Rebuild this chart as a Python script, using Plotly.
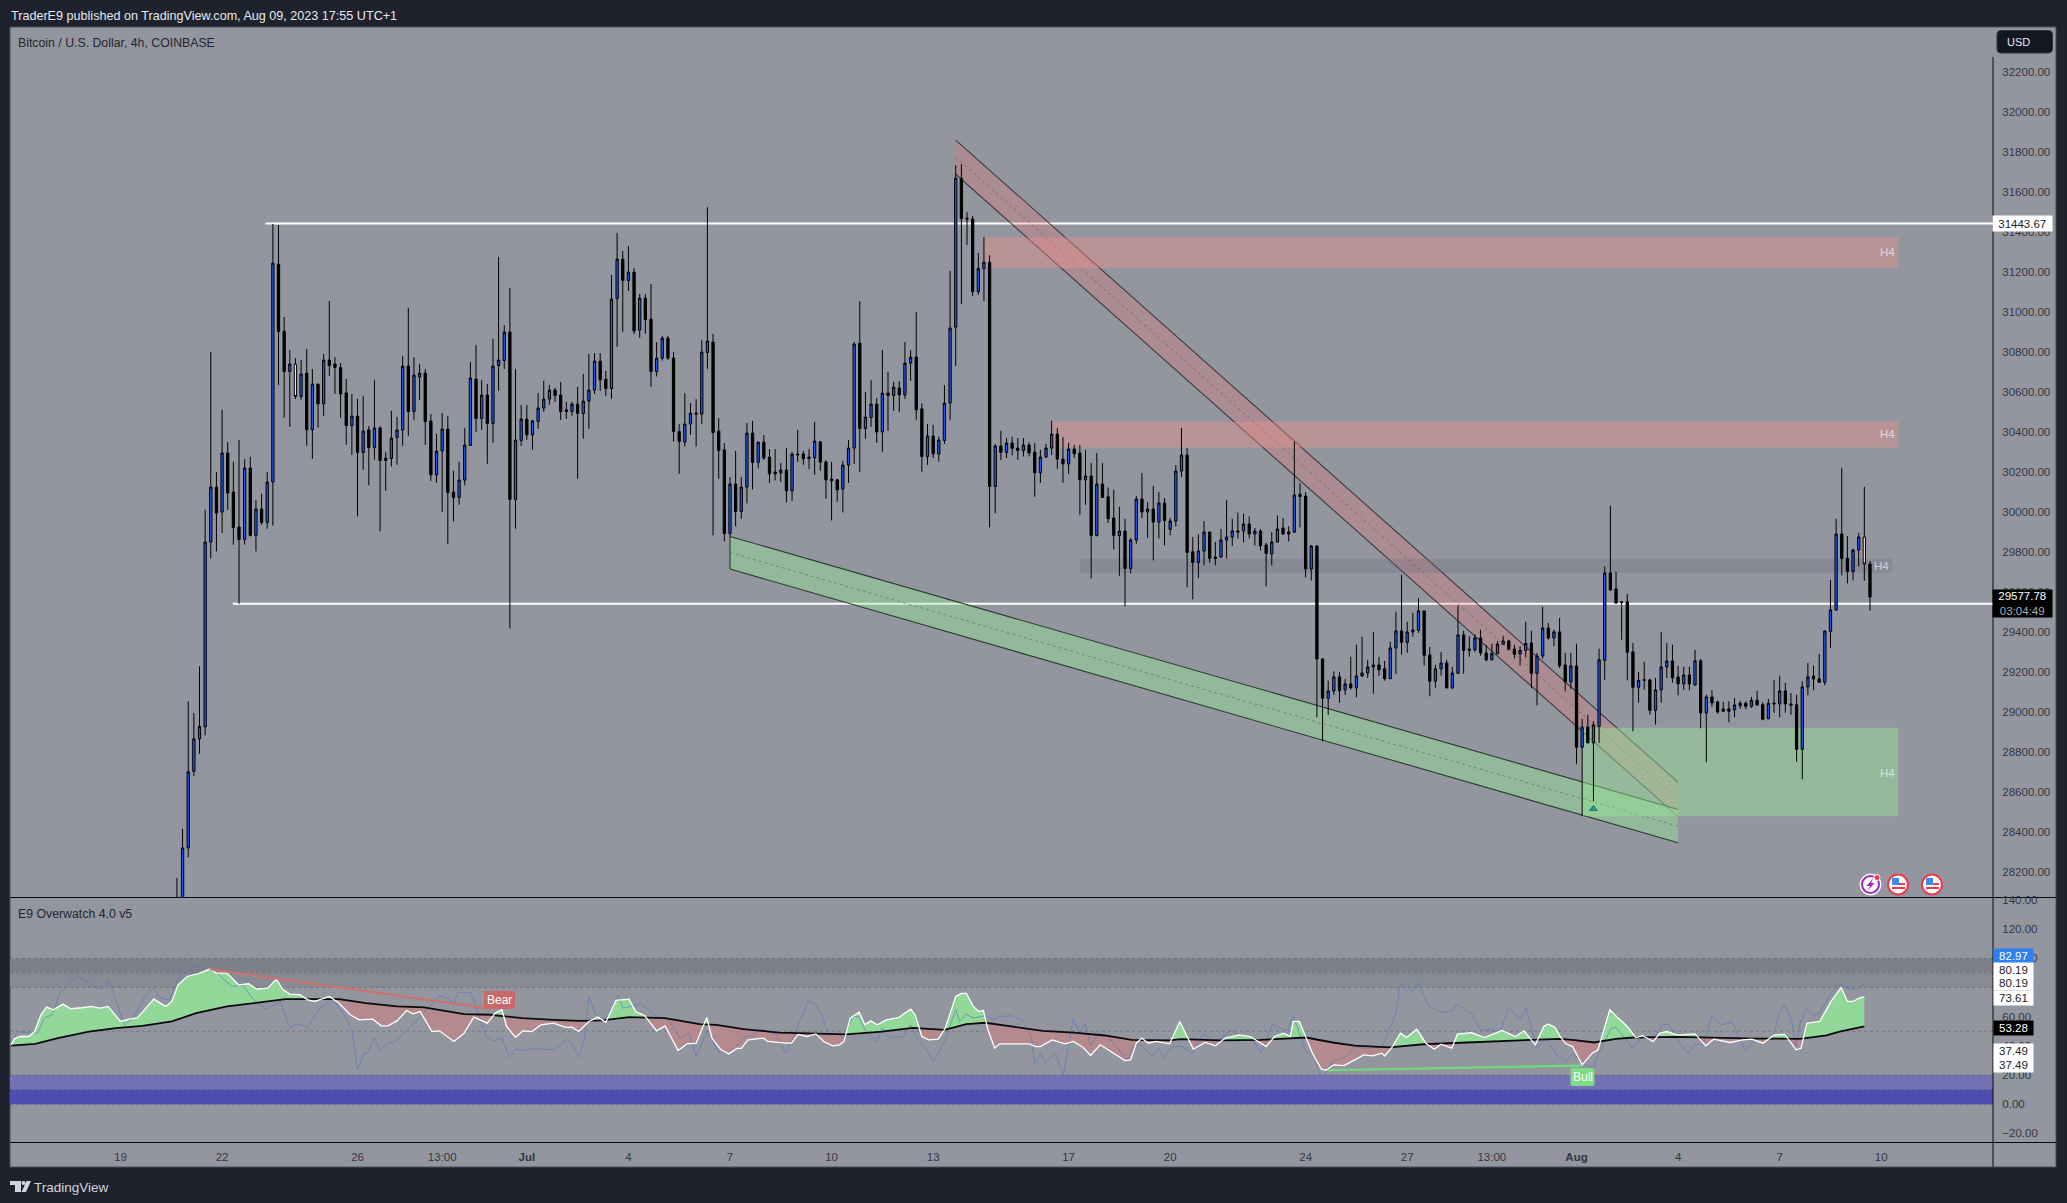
import numpy as np
import pandas as pd
import plotly.graph_objects as go

W, H = 2067, 1203
FIRST_BAR = pd.Timestamp("2023-06-20 16:00")
X_RANGE = ["2023-06-15 17:41", "2023-08-13 07:12"]
PRICE_RANGE = [28071.5, 32426.5]
OSC_RANGE = [-26.2, 141.6]

price_ticks = list(range(28200, 32201, 200))
osc_ticks = [-20, 0, 20, 40, 60, 80, 100, 120, 140]
time_tick_dates = ["2023-06-19", "2023-06-22", "2023-06-26", "2023-06-28 12:00", "2023-07-01", "2023-07-04", "2023-07-07",
                   "2023-07-10", "2023-07-13", "2023-07-17", "2023-07-20", "2023-07-24", "2023-07-27", "2023-07-29 12:00",
                   "2023-08-01", "2023-08-04", "2023-08-07", "2023-08-10"]
time_tick_text = ["19", "22", "26", "13:00", "<b>Jul</b>", "4", "7", "10", "13", "17", "20", "24", "27", "13:00",
                  "<b>Aug</b>", "4", "7", "10"]

open_prices = [
27900,27980,28320,28703,28865,28925,29850,30125,30000,30295,
30100,29925,29863,30220,29883,30015,29948,30150,31240,30905,
30703,30740,30578,30695,30411,30640,30541,30760,30741,30722,
30596,30433,30480,30298,30411,30323,30420,30258,30268,30373,
30410,30730,30503,30675,30695,30455,30185,30305,30415,30100,
30073,30160,30333,30665,30468,30585,30443,30733,30758,30900,
30063,30358,30465,30386,30453,30520,30565,30610,30585,30511,
30503,30540,30493,30555,30610,30755,30665,30618,31068,31265,
31158,31200,30910,31070,30965,30703,30770,30870,30770,30403,
30350,30440,30495,30490,30798,30850,30405,30311,29893,30140,
30003,30125,30395,30248,30350,30275,30200,30196,30210,30106,
30290,30290,30275,30272,30351,30250,30165,30161,30115,30235,
30320,30845,30418,30473,30540,30401,30595,30583,30621,30586,
30745,30775,30516,30278,30380,30291,30358,30545,30925,31670,
31470,31466,31103,31218,31250,30128,30330,30298,30345,30320,
30308,30335,30300,30196,30275,30320,30390,30265,30241,30315,
30295,30161,30180,29883,30140,30076,29970,29883,29905,29718,
29860,30065,30000,30015,29950,30045,29913,29955,30205,30285,
29801,29748,29805,29900,29775,29775,29860,29875,29905,29905,
29940,29890,29905,29835,29790,29850,29920,29890,29900,30088,
30080,29715,29830,29265,29068,29105,29175,29110,29140,29120,
29180,29195,29225,29235,29216,29166,29320,29405,29348,29400,
29408,29505,29285,29153,29215,29245,29120,29193,29385,29315,
29311,29370,29295,29261,29291,29338,29355,29315,29290,29308,
29345,29193,29280,29420,29370,29400,29235,29151,29230,28823,
28925,28845,28928,29258,29695,29615,29551,29551,29300,29123,
29161,29160,29008,29110,29225,29255,29175,29140,29185,29135,
29256,28995,29075,29050,29003,29015,29010,29031,29043,29028,
29058,29036,28966,29045,29040,29105,29040,29036,28813,29125,
29180,29165,29148,29403,29510,29890,29768,29703,29810,29875,
29740]
close_prices = [
28000,28320,28700,28865,28928,29850,30125,29995,30295,30095,
29923,29863,30220,29883,30015,29948,30150,31245,30903,30703,
30740,30578,30690,30411,30640,30541,30760,30733,30723,30591,
30433,30480,30298,30405,30323,30420,30258,30270,30370,30410,
30730,30503,30685,30695,30453,30186,30305,30415,30098,30073,
30160,30335,30670,30468,30585,30443,30730,30760,30900,30063,
30360,30465,30386,30456,30520,30565,30610,30583,30503,30503,
30540,30493,30555,30610,30755,30661,30618,31065,31265,31158,
31200,30906,31070,30963,30703,30770,30870,30770,30403,30353,
30440,30495,30490,30800,30855,30398,30308,29893,30140,30003,
30125,30395,30248,30350,30270,30191,30191,30210,30106,30290,
30286,30266,30268,30355,30250,30161,30156,30111,30235,30320,
30840,30418,30475,30540,30401,30595,30583,30625,30586,30745,
30775,30511,30278,30380,30291,30360,30545,30920,31670,31468,
31466,31103,31218,31250,30128,30330,30298,30345,30318,30308,
30335,30296,30196,30275,30320,30390,30265,30241,30315,30291,
30161,30180,29883,30140,30073,29966,29883,29905,29718,29860,
30065,30000,30015,29950,30045,29958,29955,30205,30285,29798,
29748,29805,29900,29768,29768,29860,29875,29905,29900,29940,
29890,29905,29831,29793,29850,29915,29890,29900,30085,30078,
29715,29830,29265,29068,29105,29175,29106,29140,29121,29180,
29195,29225,29235,29211,29166,29320,29405,29348,29400,29410,
29505,29283,29153,29215,29245,29120,29195,29385,29308,29308,
29370,29295,29261,29291,29340,29355,29313,29288,29308,29343,
29193,29280,29420,29370,29400,29231,29151,29230,28823,28925,
28845,28935,29261,29695,29610,29545,29548,29298,29123,29158,
29158,29008,29110,29225,29255,29170,29140,29185,29140,29256,
28995,29075,29045,29000,29015,29003,29035,29043,29028,29058,
29035,28963,29043,29040,29105,29040,29033,28813,29125,29175,
29165,29148,29405,29510,29890,29768,29703,29810,29875,29740,
29575]
high_prices = [
28170,28415,29053,28995,29228,30011,30801,30200,30512,30350,
30252,30361,30265,30276,30061,30091,30200,31441,31436,30976,
30811,30770,30761,30816,30716,30640,30791,31056,30775,30746,
30666,30591,30566,30581,30430,30661,30430,30301,30506,30476,
30781,31021,30775,30741,30716,30490,30391,30495,30481,30206,
30251,30421,30750,30836,30660,30641,30866,31276,30935,31120,
30716,30536,30536,30461,30596,30656,30636,30621,30651,30551,
30551,30626,30691,30791,30795,30795,30706,31186,31396,31306,
31331,31220,31091,31091,31141,30850,30881,30881,30800,30441,
30595,30545,30565,30861,31525,30891,30470,30345,30175,30306,
30175,30446,30456,30350,30385,30315,30315,30245,30320,30301,
30411,30306,30315,30451,30355,30260,30251,30165,30256,30360,
30850,31055,30600,30660,30570,30811,30702,30651,30655,30850,
30810,31001,30545,30440,30436,30378,30635,31206,31735,31740,
31500,31481,31296,31376,31285,30340,30406,30371,30376,30371,
30370,30348,30345,30311,30341,30456,30420,30375,30346,30336,
30335,30310,30245,30295,30245,30123,30111,30026,29966,29871,
30081,30195,30051,30131,30100,30070,29970,30235,30420,30320,
29875,29888,29955,29901,29851,29915,30061,29966,29998,29991,
29978,29920,29915,29846,29900,29983,29970,29928,30351,30145,
30100,29835,29835,29270,29156,29203,29200,29165,29276,29336,
29376,29261,29400,29275,29256,29351,29501,29686,29451,29495,
29570,29505,29325,29236,29300,29261,29225,29531,29406,29378,
29388,29411,29336,29341,29353,29381,29361,29336,29328,29451,
29406,29295,29526,29445,29411,29470,29295,29295,29341,28965,
28986,28953,29316,29728,30031,29701,29553,29591,29345,29200,
29251,29165,29170,29401,29345,29336,29231,29226,29226,29311,
29265,29086,29110,29056,29050,29053,29070,29056,29053,29075,
29106,29048,29065,29160,29181,29145,29095,29086,29153,29245,
29231,29290,29408,29660,29966,30221,29880,29816,29895,30126,
29755]
low_prices = [
27850,27950,28273,28678,28791,28883,29768,29803,29895,30011,
29836,29541,29836,29878,29803,29936,29916,29932,30636,30471,
30426,30566,30561,30331,30266,30421,30481,30681,30591,30471,
30336,30286,29978,30211,30133,30261,29903,30106,30228,30236,
30331,30381,30461,30561,30336,30156,30146,30001,29841,29953,
30036,30133,30333,30401,30411,30241,30346,30606,30716,29418,
29916,30331,30361,30311,30416,30501,30536,30551,30461,30466,
30481,30166,30366,30416,30591,30606,30581,30566,30826,30901,
31106,30891,30871,30891,30626,30678,30758,30761,30353,30191,
30328,30386,30328,30441,30716,29883,30166,29853,29878,29928,
29966,30043,30113,30218,30261,30146,30158,30151,30048,30056,
30251,30236,30215,30186,30206,30066,29958,30051,29998,30146,
30241,30201,30366,30426,30346,30301,30406,30506,30500,30566,
30656,30461,30201,30236,30270,30251,30341,30461,30731,31041,
31336,31081,31086,31056,29923,29993,30260,30270,30283,30261,
30278,30278,30076,30146,30270,30286,30216,30146,30191,30270,
29986,30036,29668,29878,30073,29945,29813,29681,29528,29693,
29841,29970,29870,29758,29868,29833,29883,29928,30175,29623,
29563,29670,29733,29745,29733,29770,29768,29831,29868,29848,
29868,29833,29808,29628,29733,29848,29886,29853,29895,29923,
29673,29658,28973,28853,28985,29085,29046,29085,29112,29073,
29175,29170,29091,29181,29156,29165,29190,29286,29296,29376,
29395,29231,29078,29121,29181,29118,29115,29191,29191,29276,
29300,29281,29253,29258,29288,29336,29308,29268,29231,29273,
29118,29033,29265,29361,29328,29220,29103,29115,28740,28478,
28845,28553,28845,29161,29606,29540,29361,29158,28903,29046,
29111,28986,28936,29046,29170,29145,29083,29110,29108,29131,
28918,28748,29025,28991,29000,28948,28973,29015,29013,29020,
29031,28958,28963,28996,28973,28996,28985,28751,28663,29083,
29108,29145,29133,29321,29506,29683,29643,29658,29728,29656,
29506]
pale_bars = [21, 299]

# Oscillator read-offs: bar number (4h bars from FIRST_BAR) and value
white_bar = [-29.4,-28.8,-27.8,-26.3,-25.2,-24.1,-23.1,-21.9,-20.2,-18.8,-16.8,-15.2,-13.6,-12.2,-10,-8.5,-7,-4.1,-2,-0.9,0.2,1.8,3.8,5.8,7,8.9,10.9,12.7,14.1,16.1,17.6,18.8,20,21.8,23.2,24.4,25.6,27,28.7,30.7,32.3,33.9,34.7,36.2,37.4,39,40.7,41.8,43.1,45.2,46.5,49.1,50.9,52.6,55,56.4,57.6,58.4,60,61.3,62.9,64.5,66.7,68.9,70,71.2,73,74.6,76,77.8,80.1,81.3,82.9,85,86.5,88.8,90.4,92,92.8,93.9,94.8,96.4,97.8,99.2,100,101.2,103.9,104.7,107.9,108.9,110.1,111.6,113.2,114.6,116.2,117.4,118.2,119.3,120.9,121.9,122.9,124.1,125.7,127.9,130,130.8,132,133.2,134.9,136.1,138,139,139.9,141.1,142.1,142.9,143.7,144.9,145.8,151,152.2,153,155.1,157.3,158.9,160.5,161.9,163.6,168,169,170,171,172.1,173.5,175.9,177.7,178.7,180.1,182.2,184,185.8,188.2,190.2,193,194.5,196.1,197.3,197.8,198.9,200.1,201.2,202.8,203.6,205,206.8,208.7,210.3,211.9,213.5,214,215.4,216.8,217.9,219.7,221.3,222.8,224,225.9,226.9,229.4,231.7,234.8,237.2,238.7,240.7,242.2,243,244.2,245.1,246.1,247.3,249,250.8,251.8,253.9,255.4,257,258.5,259.7,261.6,262.8,264,265.9,269,270.9,272.3,275.2,277.5,279.1,281,283,284.9,286.9,287.8,288.8,291.1,293.1,294.9,296,297,298.1,299]
white_val = [40.7,44.8,46.4,46.4,49.8,61.3,66.5,64.7,68.6,65.4,66.1,67,65.8,67,56.7,58.3,59.2,72,67,70.4,81.8,87.5,89.4,92.6,89.8,89.8,81.8,82.5,78.9,79.5,85.7,78.4,75.4,75,71.5,70.4,72,73.8,69.3,61.3,57.8,57.8,58.3,53.7,53.7,57.1,64.2,61.9,63.5,49.8,50.3,43,48.7,59.7,55.5,62.4,64.7,53.3,45.9,50.3,49.8,54.4,55.5,52.6,52.8,49.8,56.7,59.7,56.2,71.1,72,63.5,60.6,50.3,53.7,36.8,41.4,41.8,48.7,59.4,45.3,37.3,34.5,38.2,38.2,44.1,45.3,43,41.8,41.8,47.8,46.4,48.2,43,40,40.7,43,59,63.1,54.4,57.1,54.4,57.8,59.4,65.1,61.3,46.4,44.1,44.6,51.7,73.8,75.9,75.9,67,63.5,64.2,51,38.4,41.4,41.4,39.5,39.5,44.1,41.4,43,39.1,33.4,40.7,29.9,30.4,41.8,45.3,41.8,43,41.4,56.7,48.7,37.7,42.3,40,45.3,47.5,46.4,39.5,46.4,48.7,46.4,56.7,56.7,45.7,35,24,23.3,27,26.5,30.4,33.8,33.1,35,33.1,39.5,48.7,45.7,51.4,41.8,37.7,41.1,38.4,48,49.1,45.7,50.5,46.4,50.3,40.7,53.3,54.9,52.6,46.4,41.4,39.5,27,35,37.3,64.7,59,53.3,45.7,46.9,43,48.7,49.8,47.3,48.2,40,44.6,42.3,44.1,44.6,41.8,47.3,47.8,37.3,38.4,55.5,56.7,70.4,80,70.4,70.4,72.7,73.61]
black_bar = [-29.4,-25.1,-21.1,-15.6,-10.8,-6.1,-0.9,3.4,8.9,14.5,19.2,24,28.7,33.5,39,43.8,50.9,55.6,61.2,66.7,71.4,75.4,80.1,86.5,92.6,95.6,100.4,106.7,113,118.6,124.9,130.4,136,139.9,143.3,147.8,153.4,158.9,164.4,169.2,175.9,177.9,185,192.1,200.1,204.8,208.7,214.9,220.9,228.6,236.4,244.9,247.3,251.1,255,258.1,265.9,272.1,279.9,287.6,292.3,294.6,299]
black_val = [40.2,41.4,45.3,49.8,52.1,53.7,56.7,62.4,67,69.7,72,72,72,69.3,67,66.3,61.7,61.3,59,57.8,57.1,57.4,59.7,59,54.9,54.4,51.4,49.1,48.2,47.8,49.8,52.3,51,54.9,55.8,53.3,50.3,49.1,47.1,44.1,43.7,44.6,43.7,44.1,45.7,42.3,40.2,38.9,41.1,42.3,43.7,44.8,44.1,42.3,44.8,45.7,46.2,45.5,45,44.8,47.1,49.8,53.28]
blue_bar = [-29.4,-28.2,-26.7,-24.7,-23.5,-22.1,-20.7,-19.5,-17.8,-16,-13.6,-12,-10.4,-9.3,-7.7,-5.7,-4.1,-2.9,-1.3,0.2,2.6,5.8,7.4,9.7,11.7,13.3,15.8,18.3,20,21.2,23.2,25.4,27.5,29.5,31.1,32,33.1,33.9,34.9,36,37.3,38.4,40.2,43.4,46.5,48.1,49.1,49.8,52.1,53.4,54.8,56,57.6,58.9,60,61.2,63.1,65.5,66.7,69.1,70.1,71.2,72.2,73,74.2,75,76.2,78.2,79,80.5,82.1,83.3,84.9,86.9,89.2,90.8,92,93.9,96,98,100.8,102.3,103.1,104.7,106.3,107.9,109.9,111.8,113,114.2,115.4,117,118.2,119.7,120.8,122.1,124.1,124.9,126.1,127.6,128.7,130,131.2,132.8,134,136,138,138.7,139.9,141.1,143.1,144.7,145.8,147.8,149.8,151.4,152,153,154,155.7,157,158,158.8,159.9,160.9,161.9,163.3,164.8,168.4,169.7,170.8,172.9,174,174.9,176.3,177.9,179.9,181.8,183.8,186.8,188.2,190.2,192.1,194.1,196.1,196.9,197.8,198.9,200.1,201.2,202.8,204.8,207.2,208.7,210.3,213.5,214.7,216,216.8,217.9,219.1,219.9,222,224,225.9,226.9,228.2,229.4,231,232.5,234.5,236,238,239.1,240.9,242.6,244.5,246.1,247.3,249,250.9,252.3,254.1,255,258,259.7,261.6,263.2,264.3,266.3,267.8,269,270.4,272,273.7,275.6,277.9,279.9,281.8,282.7,283.9,284.9,286.1,286.9,287.6,288.8,290,291.1,293.1,294.8,296.2,297.7,299]
blue_val = [41.8,49.8,49.1,48.7,59,61.3,76.1,80.7,88,84.1,78.4,83.7,67,54.4,59,73.8,79.5,72.7,71.5,86.4,93.9,96.2,88.7,80.7,81.8,72.7,65.1,70.4,52.6,54.9,53.3,65.8,72.7,62.4,48.7,23.5,34.5,35,45.3,36.6,42.3,41.8,48.7,61.3,74.3,72.7,68.1,76.6,76.6,61.3,46.4,43,45.9,32.2,37.7,36.6,38.2,37.7,36.8,44.6,40.7,32,44.1,73.4,61.3,59,59,75,65.8,67,68.8,65.8,60.1,59,45.3,48.7,32.7,49.8,36.1,35,46.4,46.9,52.1,49.8,47.5,34.5,53.3,70.4,69.3,61.3,48.7,48.2,45.3,60.1,60.1,49.8,43,52.1,45.7,46.4,45.7,54.4,45.3,37.3,28.8,43,65.1,56.7,61.9,59,60.6,57.8,60.1,60.6,57.8,46.4,28.1,34.5,28.8,35,19.7,39.5,58.3,48.7,55.5,40,48.7,46.9,30.4,40.7,40.7,32.7,38.4,32.2,39.5,40,34.5,48.7,41.8,50.5,47.5,46.9,35.4,54.9,51,51,60.8,49.1,35.4,35,17.4,29.3,32.7,39.5,38.4,39.1,49.8,62.4,83,77.9,77.7,83,66.5,63.1,63.8,68.8,64.7,62.4,50.5,51,49.8,66.5,58.3,65.8,38.4,44.6,33.8,29.3,35,28.1,24.7,37.3,52.1,52.6,38.4,46.4,44.1,54.4,54.9,41.8,34.5,41.4,40.7,60.8,54.4,56.2,36.6,45.3,45.3,44.1,62.4,68.6,57.8,39.1,55.5,65.1,60.1,62.4,76.1,82.5,78.9,78.9,82.97]

# Chart drawings (bar, price)
level_high = {"bar": 15.7, "price": 31443.67}
level_low = {"bar": 9.9, "price": 29541}
red_channel_bars = [138, 266]
red_channel_upper = [31861, 28648]
red_channel_mid = [31776, 28562]
red_channel_lower = [31690, 28476]
green_channel_bars = [98, 266]
green_channel_upper = [29878, 28512]
green_channel_mid = [29797, 28428]
green_channel_lower = [29715, 28345]
zones = [
    dict(bars=[143, 305], prices=[31221, 31373], color="rgba(240,145,140,0.40)"),
    dict(bars=[155, 305], prices=[30323, 30451], color="rgba(240,145,140,0.40)"),
    dict(bars=[160, 304], prices=[29696, 29766], color="rgba(105,105,125,0.28)"),
    dict(bars=[249, 305], prices=[28478, 28921], color="rgba(150,230,150,0.45)"),
]
osc_bands = [(90, 100, "#7d8088"), (80, 90, "#888b94"), (10, 20, "#7472b4"), (0, 10, "#4e4db1")]
osc_dotted = [100, 90, 80, 50, 20, 10, 0]
bear_bars, bear_vals = [5.8, 54.8], [92.6, 65.8]
bull_bars, bull_vals = [203.9, 249], [23.3, 26.5]
signal_bar, signal_price = [251], [28515]


def bar_time(b):
    return FIRST_BAR + pd.Timedelta(hours=4 * float(b))


def bar_str(b, sep=" "):
    return bar_time(b).strftime("%Y-%m-%d" + sep + "%H:%M:%S")


def px(x):
    return x / W


def py(y):
    return 1 - y / H


bars = np.arange(len(open_prices))
times = [bar_time(b) for b in bars]
pale = np.isin(bars, pale_bars)

fig = go.Figure()

# Filled area between white and black oscillator lines
grid = np.array(sorted(set(white_bar) | set(black_bar)))
wv = np.interp(grid, white_bar, white_val)
bv = np.interp(grid, black_bar, black_val)
green_x, green_y, red_x, red_y = [], [], [], []


def flush(seg_b, seg_w, seg_k, up):
    xs = [bar_time(v) for v in seg_b] + [bar_time(v) for v in seg_b[::-1]] + [None]
    ys = list(seg_w) + list(seg_k[::-1]) + [None]
    if up:
        green_x.extend(xs); green_y.extend(ys)
    else:
        red_x.extend(xs); red_y.extend(ys)


seg_b, seg_w, seg_k = [grid[0]], [wv[0]], [bv[0]]
state = wv[0] >= bv[0]
for i in range(1, len(grid)):
    now = wv[i] >= bv[i]
    if now != state:
        d0 = wv[i - 1] - bv[i - 1]
        d1 = wv[i] - bv[i]
        t = d0 / (d0 - d1)
        cb = grid[i - 1] + t * (grid[i] - grid[i - 1])
        cv = wv[i - 1] + t * (wv[i] - wv[i - 1])
        seg_b.append(cb); seg_w.append(cv); seg_k.append(cv)
        flush(seg_b, seg_w, seg_k, state)
        seg_b, seg_w, seg_k = [cb], [cv], [cv]
        state = now
    seg_b.append(grid[i]); seg_w.append(wv[i]); seg_k.append(bv[i])
flush(seg_b, seg_w, seg_k, state)

fig.add_trace(go.Scatter(x=green_x, y=green_y, yaxis="y2", mode="lines", fill="toself", fillcolor="rgb(146,216,152)",
                         line=dict(width=0), hoverinfo="skip", showlegend=False))
fig.add_trace(go.Scatter(x=red_x, y=red_y, yaxis="y2", mode="lines", fill="toself", fillcolor="rgb(181,138,142)",
                         line=dict(width=0), hoverinfo="skip", showlegend=False))
fig.add_trace(go.Scatter(x=[bar_time(b) for b in blue_bar], y=blue_val, yaxis="y2", mode="lines",
                         line=dict(color="rgba(86,120,190,0.62)", width=1), hoverinfo="skip", showlegend=False))
fig.add_trace(go.Scatter(x=[bar_time(b) for b in black_bar], y=black_val, yaxis="y2", mode="lines",
                         line=dict(color="#0b0b0d", width=1.8), hoverinfo="skip", showlegend=False))
fig.add_trace(go.Scatter(x=[bar_time(b) for b in white_bar], y=white_val, yaxis="y2", mode="lines",
                         line=dict(color="#ffffff", width=1.3), hoverinfo="skip", showlegend=False))
fig.add_trace(go.Scatter(x=[bar_time(b) for b in bear_bars], y=bear_vals, yaxis="y2", mode="lines",
                         line=dict(color="#c87272", width=2.2), hoverinfo="skip", showlegend=False))
fig.add_trace(go.Scatter(x=[bar_time(b) for b in bull_bars], y=bull_vals, yaxis="y2", mode="lines",
                         line=dict(color="#6fdc7c", width=2.2), hoverinfo="skip", showlegend=False))


def arr(a, mask):
    return list(np.array(a)[mask])


t_arr = np.array(times)
fig.add_trace(go.Candlestick(
    x=list(t_arr[~pale]), open=arr(open_prices, ~pale), high=arr(high_prices, ~pale),
    low=arr(low_prices, ~pale), close=arr(close_prices, ~pale), yaxis="y",
    increasing=dict(line=dict(color="#000000", width=1), fillcolor="#1f58f0"),
    decreasing=dict(line=dict(color="#000000", width=1), fillcolor="#000000"),
    whiskerwidth=0, hoverinfo="skip", showlegend=False))
fig.add_trace(go.Candlestick(
    x=list(t_arr[pale]), open=arr(open_prices, pale), high=arr(high_prices, pale),
    low=arr(low_prices, pale), close=arr(close_prices, pale), yaxis="y",
    increasing=dict(line=dict(color="#000000", width=1), fillcolor="#f3d9d9"),
    decreasing=dict(line=dict(color="#000000", width=1), fillcolor="#f3d9d9"),
    whiskerwidth=0, hoverinfo="skip", showlegend=False))
fig.add_trace(go.Scatter(x=[bar_time(b) for b in signal_bar], y=signal_price, yaxis="y", mode="markers",
                         marker=dict(symbol="triangle-up", size=7, color="#1d9c8c",
                                     line=dict(color="#17806f", width=1)), hoverinfo="skip", showlegend=False))

shapes = []
BG = "#93969f"
DARK = "#1e222d"
LINE = "#0a0a0c"


def pane_rect(x0, y0, x1, y1, fill, line=None, lw=0, **kw):
    shapes.append(dict(type="rect", xref="paper", yref="paper", x0=px(x0), x1=px(x1), y0=py(y0), y1=py(y1),
                       fillcolor=fill, line=dict(color=line or "rgba(0,0,0,0)", width=lw), layer="below", **kw))


def pane_line(x0, y0, x1, y1, color=LINE, width=1):
    shapes.append(dict(type="line", xref="paper", yref="paper", x0=px(x0), x1=px(x1), y0=py(y0), y1=py(y1),
                       line=dict(color=color, width=width), layer="below"))


def round_rect(x0, y0, x1, y1, r, fill, line=None, lw=0):
    p = (f"M {px(x0 + r)},{py(y0)} L {px(x1 - r)},{py(y0)} Q {px(x1)},{py(y0)} {px(x1)},{py(y0 + r)} "
         f"L {px(x1)},{py(y1 - r)} Q {px(x1)},{py(y1)} {px(x1 - r)},{py(y1)} L {px(x0 + r)},{py(y1)} "
         f"Q {px(x0)},{py(y1)} {px(x0)},{py(y1 - r)} L {px(x0)},{py(y0 + r)} Q {px(x0)},{py(y0)} {px(x0 + r)},{py(y0)} Z")
    shapes.append(dict(type="path", xref="paper", yref="paper", path=p, fillcolor=fill,
                       line=dict(color=line or "rgba(0,0,0,0)", width=lw), layer="above"))


pane_rect(10, 27, 2056, 1167, BG, "#4a4e5a", 1)

for lo, hi, col in osc_bands:
    shapes.append(dict(type="rect", xref="paper", yref="y2", x0=px(10), x1=px(1993), y0=lo, y1=hi,
                       fillcolor=col, line=dict(width=0), layer="below"))
for lv in osc_dotted:
    shapes.append(dict(type="line", xref="paper", yref="y2", x0=px(10), x1=px(1993), y0=lv, y1=lv,
                       line=dict(color="rgba(70,72,85,0.38)", width=1, dash="dot"), layer="below"))

for lev in (level_high, level_low):
    shapes.append(dict(type="line", xref="x", yref="y", x0=bar_str(lev["bar"]), x1=X_RANGE[1],
                       y0=lev["price"], y1=lev["price"], line=dict(color="#ffffff", width=2), layer="below"))


def channel(bars_, upper, mid, lower, fill, edge, left_edge):
    a, b = bar_str(bars_[0], "_"), bar_str(bars_[1], "_")
    shapes.append(dict(type="path", xref="x", yref="y",
                       path=f"M {a},{upper[0]} L {b},{upper[1]} L {b},{lower[1]} L {a},{lower[0]} Z",
                       fillcolor=fill, line=dict(width=0), layer="below"))
    a2, b2 = bar_str(bars_[0]), bar_str(bars_[1])
    for ys in (upper, lower):
        shapes.append(dict(type="line", xref="x", yref="y", x0=a2, x1=b2, y0=ys[0], y1=ys[1],
                           line=dict(color=edge, width=1.1), layer="below"))
    shapes.append(dict(type="line", xref="x", yref="y", x0=a2, x1=b2, y0=mid[0], y1=mid[1],
                       line=dict(color="rgba(60,64,70,0.42)", width=1, dash="dot"), layer="below"))
    if left_edge:
        shapes.append(dict(type="line", xref="x", yref="y", x0=a2, x1=a2, y0=lower[0], y1=upper[0],
                           line=dict(color=edge, width=1.1), layer="below"))


channel(red_channel_bars, red_channel_upper, red_channel_mid, red_channel_lower,
        "rgba(235,115,115,0.28)", "rgba(25,25,30,0.72)", False)
channel(green_channel_bars, green_channel_upper, green_channel_mid, green_channel_lower,
        "rgba(150,230,150,0.42)", "rgba(30,50,35,0.9)", True)
for z in zones:
    shapes.append(dict(type="rect", xref="x", yref="y", x0=bar_str(z["bars"][0]), x1=bar_str(z["bars"][1]),
                       y0=z["prices"][0], y1=z["prices"][1], fillcolor=z["color"], line=dict(width=0), layer="below"))

pane_line(10, 897.5, 2056, 897.5)
pane_line(10, 1142.5, 2056, 1142.5)
pane_line(1993, 57, 1993, 1167)


def circle(cx, cy, r, fill, line, lw):
    shapes.append(dict(type="circle", xref="paper", yref="paper", x0=px(cx - r), x1=px(cx + r),
                       y0=py(cy + r), y1=py(cy - r), fillcolor=fill, line=dict(color=line, width=lw), layer="below"))


# Event icons
circle(1870.5, 884.5, 10.5, "#ffffff", "#ffffff", 1)
circle(1870.5, 884.5, 8.5, "#ffffff", "#9c27b0", 2)
shapes.append(dict(type="path", xref="paper", yref="paper", fillcolor="#9c27b0", line=dict(width=0), layer="below",
                   path=f"M {px(1873.5)},{py(878)} L {px(1866.5)},{py(886)} L {px(1870)},{py(886)} L {px(1867.5)},{py(891)} "
                        f"L {px(1874.5)},{py(883)} L {px(1871)},{py(883)} Z"))
circle(1877, 877.5, 3, "#f23645", "#ffffff", 1)
for cx in (1898, 1932):
    circle(cx, 884.5, 10, "#ffffff", "#ef3a4a", 2)
    pane_rect(cx - 6, 887, cx + 7, 889, "#ef3a4a")
    pane_rect(cx - 6, 883, cx + 7, 885, "#ef3a4a")
    pane_rect(cx - 6, 878, cx + 1, 885, "#3f8ae8")

# TradingView mark
pane_rect(10, 1181, 21, 1185, "#d1d4dc")
pane_rect(15, 1181, 21, 1192, "#d1d4dc")
circle(23.5, 1183, 2, "#d1d4dc", "#d1d4dc", 0)
shapes.append(dict(type="path", xref="paper", yref="paper", fillcolor="#d1d4dc", line=dict(width=0), layer="below",
                   path=f"M {px(31)},{py(1181)} L {px(26)},{py(1192)} L {px(21.5)},{py(1192)} L {px(26.5)},{py(1181)} Z"))

# Rounded backgrounds
round_rect(1997, 30.5, 2052.5, 53, 4, "#131722", "#2f323c", 1)
round_rect(484, 991, 515, 1009, 2.5, "#c96a6a")
round_rect(1570.5, 1068, 1594.5, 1086, 2.5, "#7ddc86")

TXT = "#33363f"
FONT = "Liberation Sans"
ann = []


def label(x, y, text, color=TXT, size=12, anchor="left", **kw):
    ann.append(dict(xref="paper", yref="paper", x=px(x), y=py(y), text=text, showarrow=False, xanchor=anchor,
                    yanchor="middle", font=dict(family=FONT, size=size, color=color), **kw))


def badge(x0, x1, yc, h, text, bg, color, size=11.5):
    ann.append(dict(xref="paper", yref="paper", x=px((x0 + x1) / 2), y=py(yc), text=text, showarrow=False,
                    xanchor="center", yanchor="middle", width=x1 - x0, height=h, bgcolor=bg, borderpad=0,
                    align="center", valign="middle", font=dict(family=FONT, size=size, color=color)))


label(8.7, 16, "TraderE9 published on TradingView.com, Aug 09, 2023 17:55 UTC+1", "#e6e8ee", 12.6)
label(16.3, 42.5, "Bitcoin / U.S. Dollar, 4h, COINBASE", "#23262f", 12.3)
label(16.3, 914, "E9 Overwatch 4.0 v5", "#23262f", 12.3)
label(31.5, 1187, "TradingView", "#d1d4dc", 13.5)
label(1887, 252, "H4", "rgba(255,255,255,0.62)", 11.5, "center")
label(1887, 434.5, "H4", "rgba(255,255,255,0.62)", 11.5, "center")
label(1881, 565.5, "H4", "rgba(255,255,255,0.62)", 11.5, "center")
label(1887, 773, "H4", "rgba(255,255,255,0.62)", 11.5, "center")
label(2004.5, 42, "USD", "#e6e8ee", 11)

badge(1993.5, 2052, 224, 15, "31443.67", "#ffffff", "#1a1c22")
badge(1993.5, 2052, 603, 27, "29577.78<br><span style='color:#a8abb3'>03:04:49</span>", "#000000", "#ffffff")
badge(1993.5, 2032.5, 955.5, 14, "82.97", "#2f80f0", "#ffffff")
badge(1993.5, 2032.5, 969.5, 14, "80.19", "#ffffff", "#1a1c22")
badge(1993.5, 2032.5, 983.5, 14, "80.19", "#ffffff", "#1a1c22")
badge(1993.5, 2032.5, 997.5, 14, "73.61", "#ffffff", "#1a1c22")
badge(1993.5, 2032.5, 1027.5, 14, "53.28", "#000000", "#ffffff")
badge(1993.5, 2032.5, 1050.5, 14, "37.49", "#ffffff", "#1a1c22")
badge(1993.5, 2032.5, 1064.5, 14, "37.49", "#ffffff", "#1a1c22")
label(499.5, 1000, "Bear", "#ffffff", 12, "center")
label(1582.5, 1077, "Bull", "#ffffff", 12, "center")

axis_font = dict(family=FONT, size=11.5, color=TXT)
fig.update_layout(
    width=W, height=H, margin=dict(l=0, r=0, t=0, b=0, autoexpand=False), paper_bgcolor=DARK,
    plot_bgcolor="rgba(0,0,0,0)",
    showlegend=False, boxgap=0.42, boxmode="overlay", dragmode=False, hovermode=False,
    xaxis=dict(type="date", domain=[px(10), px(1993)], range=X_RANGE, anchor="y2", rangeslider=dict(visible=False),
               automargin=False,
               showgrid=False, zeroline=False, showline=False, tickvals=time_tick_dates, ticktext=time_tick_text,
               tickmode="array", ticks="outside", ticklen=4, tickcolor="rgba(0,0,0,0)", tickfont=axis_font, tickangle=0),
    yaxis=dict(domain=[py(897.5), py(27)], range=PRICE_RANGE, side="right", anchor="x", showgrid=False, zeroline=False,
               automargin=False,
               showline=False, tickmode="array", tickvals=price_ticks, ticktext=[f"{v:.2f}" for v in price_ticks],
               ticks="outside", ticklen=6, tickcolor="rgba(0,0,0,0)", tickfont=axis_font),
    yaxis2=dict(domain=[py(1142.5), py(897.5)], range=OSC_RANGE, side="right", anchor="x", showgrid=False,
                automargin=False,
                zeroline=False, showline=False, tickmode="array", tickvals=osc_ticks,
                ticktext=[f"\u2212{abs(v):.2f}" if v < 0 else f"{v:.2f}" for v in osc_ticks],
                ticks="outside", ticklen=6, tickcolor="rgba(0,0,0,0)", tickfont=axis_font),
    shapes=shapes, annotations=ann,
)

fig.write_html("out.html", config=dict(displayModeBar=False),
               post_script="document.body.style.margin='0';document.body.style.overflow='hidden';")
